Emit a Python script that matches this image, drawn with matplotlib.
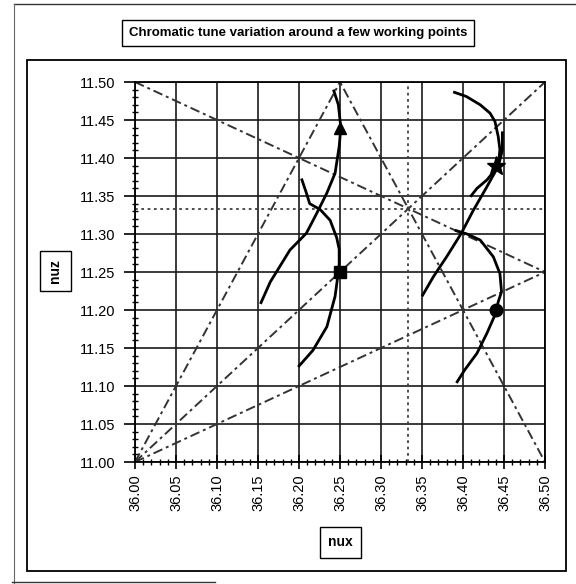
import matplotlib
matplotlib.use("Agg")
import matplotlib.pyplot as plt
import numpy as np
from matplotlib.ticker import MultipleLocator, FormatStrFormatter
from matplotlib.patches import Rectangle

plt.rcParams['font.family'] = ['Liberation Sans', 'DejaVu Sans']

title = "Chromatic tune variation around a few working points"
xlabel = "nux"
ylabel = "nuz"

# working points
wp_nux = [36.25, 36.25, 36.44, 36.44]
wp_nuz = [11.44, 11.25, 11.39, 11.20]
wp_marker = ['^', 's', '*', 'o']

# chromatic curves
c1_nux = [36.242, 36.248, 36.251, 36.249, 36.244, 36.234, 36.222, 36.209, 36.189, 36.165, 36.153]
c1_nuz = [11.490, 11.470, 11.440, 11.415, 11.380, 11.354, 11.328, 11.301, 11.279, 11.237, 11.208]

c2_nux = [36.203, 36.209, 36.213, 36.226, 36.238, 36.246, 36.249, 36.249, 36.248, 36.244, 36.234, 36.217, 36.199]
c2_nuz = [11.373, 11.354, 11.340, 11.332, 11.318, 11.295, 11.280, 11.261, 11.250, 11.218, 11.178, 11.147, 11.125]

c3_nux = [36.388, 36.404, 36.421, 36.433, 36.439, 36.443, 36.445, 36.443, 36.429, 36.417, 36.409]
c3_nuz = [11.487, 11.481, 11.470, 11.459, 11.448, 11.428, 11.411, 11.389, 11.371, 11.360, 11.349]

c4_nux = [36.448, 36.448, 36.443, 36.428, 36.412, 36.398, 36.380, 36.364, 36.350]
c4_nuz = [11.435, 11.410, 11.389, 11.360, 11.330, 11.301, 11.270, 11.244, 11.218]

c5_nux = [36.390, 36.405, 36.421, 36.437, 36.445, 36.447, 36.443, 36.440, 36.429, 36.417, 36.402, 36.392]
c5_nuz = [11.305, 11.300, 11.292, 11.270, 11.248, 11.224, 11.211, 11.196, 11.169, 11.143, 11.121, 11.104]

curves = [(c1_nux, c1_nuz), (c2_nux, c2_nuz), (c3_nux, c3_nuz), (c4_nux, c4_nuz), (c5_nux, c5_nuz)]

# resonance lines a*nux + b*nuz = c
res_a = [1, 2, 2, 1, 1]
res_b = [2, -1, 1, -1, -2]
res_c = [59, 61, 84, 25, 14]
third_nux = 109 / 3
third_nuz = 34 / 3

W, H = 576, 584
fig = plt.figure(figsize=(W / 100, H / 100), dpi=100)
ax = fig.add_axes([135 / W, 1 - 462 / H, 410 / W, 380 / H])
ax.set_xlim(36.0, 36.5)
ax.set_ylim(11.0, 11.5)

ax.xaxis.set_major_locator(MultipleLocator(0.05))
ax.yaxis.set_major_locator(MultipleLocator(0.05))
ax.xaxis.set_minor_locator(MultipleLocator(0.01))
ax.yaxis.set_minor_locator(MultipleLocator(0.01))
ax.xaxis.set_major_formatter(FormatStrFormatter('%.2f'))
ax.yaxis.set_major_formatter(FormatStrFormatter('%.2f'))
ax.grid(True, which='major', color='0.1', lw=1.2)
ax.set_axisbelow(True)
ax.tick_params(axis='x', which='major', direction='inout', length=10, width=1.2,
               labelrotation=90, labelsize=10.5, pad=4)
ax.tick_params(axis='y', which='major', direction='out', length=8, width=1.2,
               labelsize=10.5, pad=6)
ax.tick_params(which='minor', direction='inout', length=5, width=1.0)
for s in ax.spines.values():
    s.set_linewidth(1.3)

# resonance lines
xs = np.linspace(36.0, 36.5, 200)
for a, b, c in zip(res_a, res_b, res_c):
    ys = (c - a * xs) / b
    ax.plot(xs, ys, color='0.2', lw=1.4, dashes=(5, 2, 1.5, 2), zorder=2)
ax.axvline(third_nux, color='0.25', lw=1.3, dashes=(1.5, 2), zorder=2)
ax.axhline(third_nuz, color='0.25', lw=1.3, dashes=(1.5, 2), zorder=2)

for cx, cy in curves:
    ax.plot(cx, cy, color='black', lw=2.0, zorder=3, solid_capstyle='butt')

for x, y, m in zip(wp_nux, wp_nuz, wp_marker):
    ms = 14 if m == '*' else 9
    ax.plot([x], [y], marker=m, ms=ms, color='black', ls='none', zorder=4)

# title box
fig.text(298 / W, 1 - 33 / H, title, ha='center', va='center', fontsize=9.5,
         fontweight='bold',
         bbox=dict(boxstyle='square,pad=0.55', fc='white', ec='black', lw=1.0))
fig.text(340.5 / W, 1 - 542.5 / H, xlabel, ha='center', va='center', fontsize=10,
         fontweight='bold',
         bbox=dict(boxstyle='square,pad=0.6', fc='white', ec='black', lw=1.0))
fig.text(55.5 / W, 1 - 271 / H, ylabel, ha='center', va='center', fontsize=10,
         fontweight='bold', rotation=90,
         bbox=dict(boxstyle='square,pad=0.6', fc='white', ec='black', lw=1.0))

# frames
fig.patches.append(Rectangle((27 / W, 1 - 571 / H), 539 / W, 511 / H, transform=fig.transFigure,
                             fill=False, ec='black', lw=1.3))
fig.add_artist(plt.Line2D([14 / W, 1.0], [1 - 4 / H, 1 - 4 / H], transform=fig.transFigure, color='0.2', lw=1.0))
fig.add_artist(plt.Line2D([14 / W, 14 / W], [1 - 4 / H, 1 - 583 / H], transform=fig.transFigure, color='0.4', lw=0.8))
fig.add_artist(plt.Line2D([12 / W, 215 / W], [1 - 582 / H, 1 - 582 / H], transform=fig.transFigure, color='0.2', lw=1.0))

fig.savefig("out.png", dpi=100)
